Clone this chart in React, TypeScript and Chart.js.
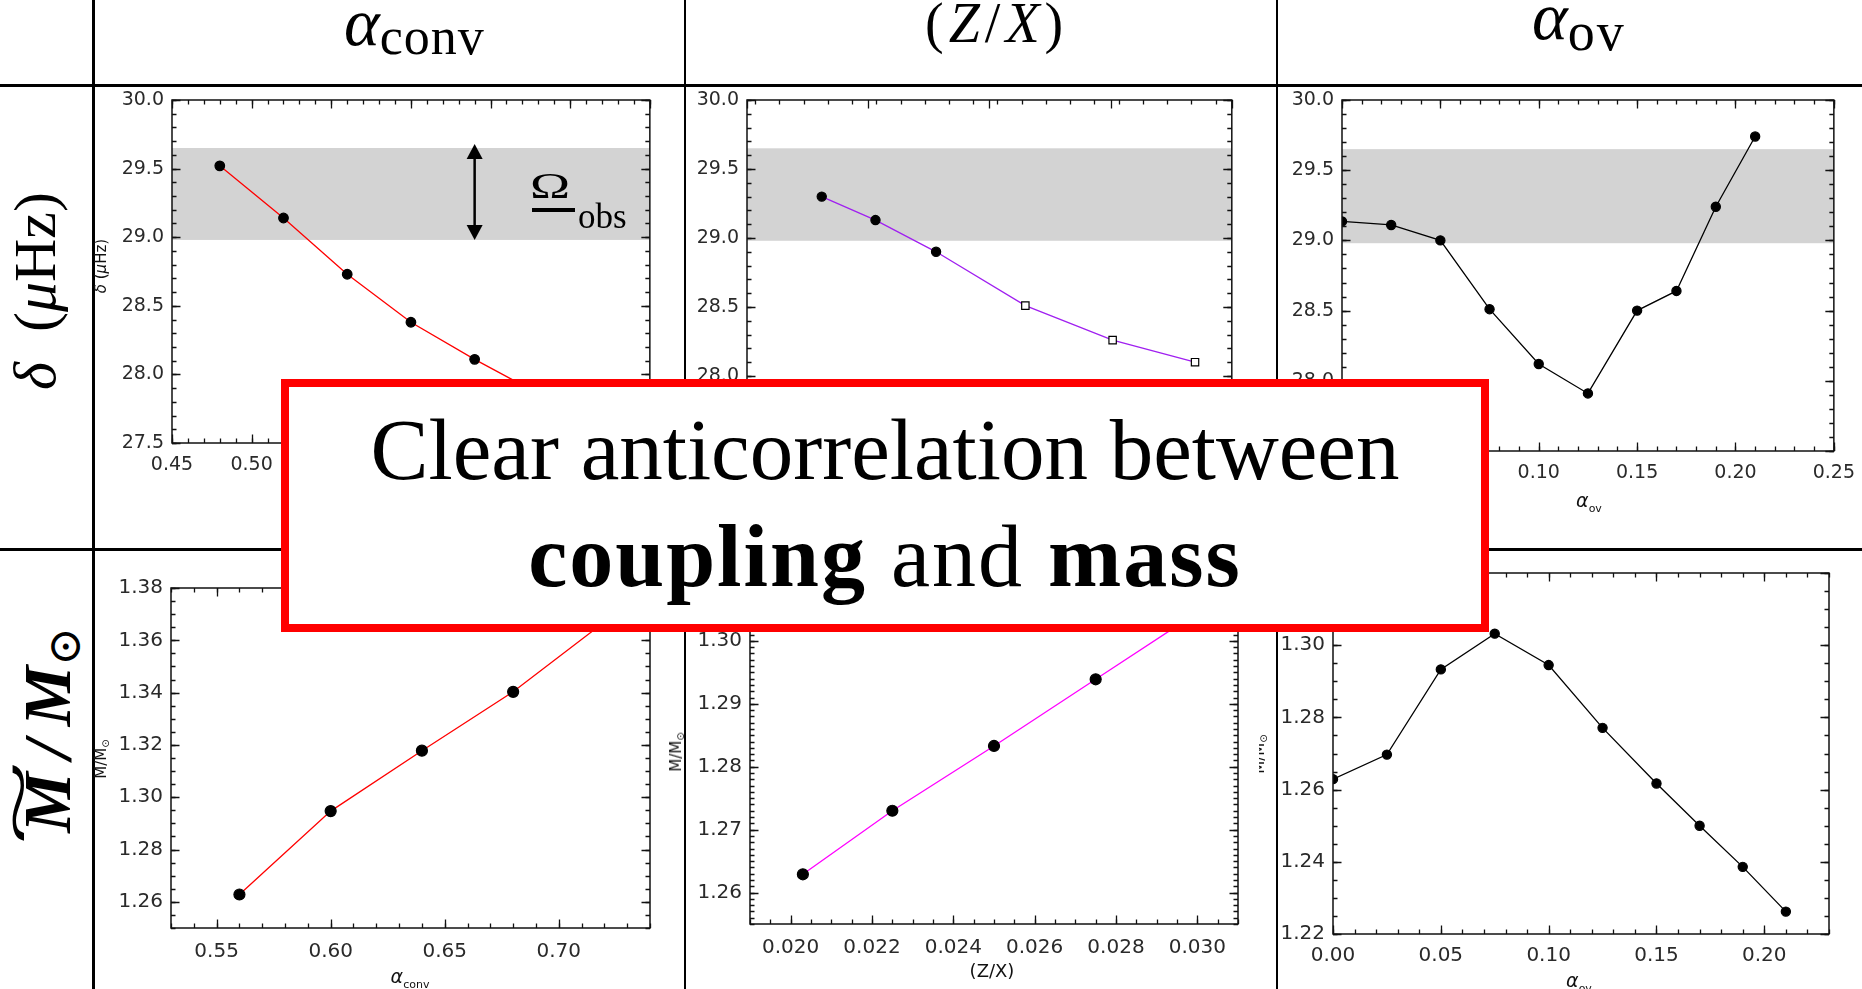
import React, { useEffect, useRef } from "react";
import { Chart, registerables } from "chart.js";
Chart.register(...registerables);

// ---------- data ----------
// top row: small frequency separation delta (muHz)
const convDeltaX = [0.48, 0.52, 0.56, 0.6, 0.64, 0.68, 0.72];
const convDeltaY = [29.52, 29.14, 28.73, 28.38, 28.11, 27.86, 27.62];
const zxDeltaX = [0.02085, 0.02218, 0.02368, 0.02589, 0.02805, 0.03009];
const zxDeltaY = [29.3, 29.13, 28.9, 28.51, 28.26, 28.1];
const zxDeltaOpen = [false, false, false, true, true, true];
const ovDeltaX = [0.0, 0.025, 0.05, 0.075, 0.1, 0.125, 0.15, 0.17, 0.19, 0.21];
const ovDeltaY = [29.135, 29.11, 29.0, 28.51, 28.12, 27.91, 28.5, 28.64, 29.24, 29.74];
// bottom row: mass
const convMassX = [0.56, 0.6, 0.64, 0.68, 0.72];
const convMassY = [1.2628, 1.2947, 1.3178, 1.3403, 1.367];
const zxMassX = [0.0203, 0.0225, 0.025, 0.0275, 0.03];
const zxMassY = [1.2629, 1.273, 1.2833, 1.2939, 1.3045];
const ovMassX = [0.0, 0.025, 0.05, 0.075, 0.1, 0.125, 0.15, 0.17, 0.19, 0.21];
const ovMassY = [1.2629, 1.2697, 1.2933, 1.3032, 1.2945, 1.2771, 1.2617, 1.25, 1.2386, 1.2262];
// observed band and arrow
const deltaObsBand = [28.98, 29.65];
const deltaObsArrow = [0.64, 28.98, 29.68];
// tick labels
const deltaTicks = [27.5, 28.0, 28.5, 29.0, 29.5, 30.0];
const convTopTicks = [0.45, 0.5, 0.55, 0.6, 0.65, 0.7, 0.75];
const zxTopTicks = [0.019, 0.022, 0.025, 0.028, 0.031];
const ovTopTicks = [0.0, 0.05, 0.1, 0.15, 0.2, 0.25];
const convBotTicks = [0.55, 0.6, 0.65, 0.7];
const convMassTicks = [1.26, 1.28, 1.3, 1.32, 1.34, 1.36, 1.38];
const zxBotTicks = [0.02, 0.022, 0.024, 0.026, 0.028, 0.03];
const zxMassTicks = [1.26, 1.27, 1.28, 1.29, 1.3, 1.31];
const ovBotTicks = [0.0, 0.05, 0.1, 0.15, 0.2];
const ovMassTicks = [1.22, 1.24, 1.26, 1.28, 1.3, 1.32];

// ---------- layout ----------
const ML = 80, MT = 20, MR = 30, MB = 50;

type Spec = {
  L: number; T: number; R: number; B: number;
  xMin: number; xMax: number; yMin: number; yMax: number;
  xTicks: number[]; yTicks: number[]; xDec: number; yDec: number;
  xMinor: number; yMinor: number;
  xs: number[]; ys: number[]; color: string;
  radius: number | number[]; style?: string[]; fills?: string[];
  band?: number[]; arrow?: number[]; xPad: number; fs: number;
};

const idlPlugin = {
  id: "idl",
  beforeDatasetsDraw(chart: any, _a: any, o: any) {
    const { ctx, chartArea: a, scales } = chart;
    if (o.band) {
      const y1 = scales.y.getPixelForValue(o.band[1]);
      const y0 = scales.y.getPixelForValue(o.band[0]);
      ctx.save();
      ctx.fillStyle = "#d3d3d3";
      ctx.fillRect(a.left, y1, a.right - a.left, y0 - y1);
      ctx.restore();
    }
  },
  afterDatasetsDraw(chart: any, _a: any, o: any) {
    const { ctx, chartArea: a, scales } = chart;
    const x = scales.x, y = scales.y;
    ctx.save();
    ctx.strokeStyle = "#111";
    ctx.lineWidth = 1.5;
    ctx.strokeRect(a.left, a.top, a.right - a.left, a.bottom - a.top);
    const minors = (mn: number, mx: number, st: number) => {
      const out: number[] = [];
      const k0 = Math.ceil(mn / st - 1e-6), k1 = Math.floor(mx / st + 1e-6);
      for (let k = k0; k <= k1; k++) out.push(k * st);
      return out;
    };
    const drawX = (vals: number[], len: number) => {
      ctx.beginPath();
      vals.forEach((v) => {
        const px = Math.round(x.getPixelForValue(v)) + 0.5;
        ctx.moveTo(px, a.bottom); ctx.lineTo(px, a.bottom - len);
        ctx.moveTo(px, a.top); ctx.lineTo(px, a.top + len);
      });
      ctx.stroke();
    };
    const drawY = (vals: number[], len: number) => {
      ctx.beginPath();
      vals.forEach((v) => {
        const py = Math.round(y.getPixelForValue(v)) + 0.5;
        ctx.moveTo(a.left, py); ctx.lineTo(a.left + len, py);
        ctx.moveTo(a.right, py); ctx.lineTo(a.right - len, py);
      });
      ctx.stroke();
    };
    ctx.lineWidth = 1.3;
    drawX(minors(x.min, x.max, o.xMinor), 4.5);
    drawY(minors(y.min, y.max, o.yMinor), 4.5);
    drawX(x.ticks.map((t: any) => t.value), 8.5);
    drawY(y.ticks.map((t: any) => t.value), 8.5);
    if (o.arrow) {
      const ax = x.getPixelForValue(o.arrow[0]);
      const yb = y.getPixelForValue(o.arrow[1]);
      const yt = y.getPixelForValue(o.arrow[2]);
      ctx.fillStyle = "#000";
      ctx.strokeStyle = "#000";
      ctx.lineWidth = 2.5;
      ctx.beginPath();
      ctx.moveTo(ax, yt + 12); ctx.lineTo(ax, yb - 12);
      ctx.stroke();
      ctx.beginPath();
      ctx.moveTo(ax, yt); ctx.lineTo(ax - 8, yt + 15); ctx.lineTo(ax + 8, yt + 15); ctx.closePath();
      ctx.fill();
      ctx.beginPath();
      ctx.moveTo(ax, yb); ctx.lineTo(ax - 8, yb - 15); ctx.lineTo(ax + 8, yb - 15); ctx.closePath();
      ctx.fill();
    }
    ctx.restore();
  },
};

function Panel({ s }: { s: Spec }) {
  const ref = useRef<HTMLCanvasElement>(null);
  const w = s.R - s.L + ML + MR;
  const h = s.B - s.T + MT + MB;
  useEffect(() => {
    const font = { family: "DejaVu Sans", size: s.fs };
    const chart = new Chart(ref.current as HTMLCanvasElement, {
      type: "scatter",
      data: {
        datasets: [
          {
            data: s.xs.map((xv, i) => ({ x: xv, y: s.ys[i] })),
            showLine: true,
            borderColor: s.color,
            borderWidth: 1.3,
            tension: 0,
            pointRadius: s.radius as any,
            pointStyle: (s.style || "circle") as any,
            pointBackgroundColor: (s.fills || "#000") as any,
            pointBorderColor: "#000",
            pointBorderWidth: 1.2,
            clip: 0 as any,
          },
        ],
      },
      options: {
        animation: false,
        responsive: false,
        devicePixelRatio: 1,
        layout: { padding: { left: 0, top: MT, right: MR, bottom: 0 } },
        plugins: {
          legend: { display: false },
          tooltip: { enabled: false },
          idl: { band: s.band, arrow: s.arrow, xMinor: s.xMinor, yMinor: s.yMinor },
        } as any,
        scales: {
          x: {
            type: "linear",
            min: s.xMin,
            max: s.xMax,
            grid: { display: false, drawTicks: false },
            border: { display: false },
            ticks: {
              autoSkip: false, maxRotation: 0, padding: s.xPad, font, color: "#2a2a2a",
              callback: (v: any) => Number(v).toFixed(s.xDec),
            },
            afterBuildTicks: (sc: any) => { sc.ticks = s.xTicks.map((v) => ({ value: v })); },
            afterFit: (sc: any) => { sc.height = MB; },
          },
          y: {
            type: "linear",
            min: s.yMin,
            max: s.yMax,
            grid: { display: false, drawTicks: false },
            border: { display: false },
            ticks: {
              autoSkip: false, padding: 8, font, color: "#2a2a2a",
              callback: (v: any) => Number(v).toFixed(s.yDec),
            },
            afterBuildTicks: (sc: any) => { sc.ticks = s.yTicks.map((v) => ({ value: v })); },
            afterFit: (sc: any) => { sc.width = ML; },
          },
        } as any,
      },
      plugins: [idlPlugin as any],
    });
    return () => chart.destroy();
  }, []);
  return (
    <canvas
      ref={ref}
      width={w}
      height={h}
      style={{ position: "absolute", left: s.L - ML, top: s.T - MT, width: w, height: h }}
    />
  );
}

const panels: Spec[] = [
  {
    L: 172, T: 100, R: 652, B: 443, xMin: 0.45, xMax: 0.75, yMin: 27.5, yMax: 30.0,
    xTicks: convTopTicks, yTicks: deltaTicks, xDec: 2, yDec: 1, xMinor: 0.01, yMinor: 0.1,
    xs: convDeltaX, ys: convDeltaY, color: "#ff0000", radius: 4.8,
    band: deltaObsBand, arrow: deltaObsArrow, xPad: 11, fs: 19,
  },
  {
    L: 747, T: 100, R: 1240, B: 445, xMin: 0.019, xMax: 0.031, yMin: 27.5, yMax: 30.0,
    xTicks: zxTopTicks, yTicks: deltaTicks, xDec: 3, yDec: 1, xMinor: 0.0006, yMinor: 0.1,
    xs: zxDeltaX, ys: zxDeltaY, color: "#a020f0",
    radius: zxDeltaOpen.map((o) => (o ? 5.2 : 4.6)),
    style: zxDeltaOpen.map((o) => (o ? "rect" : "circle")),
    fills: zxDeltaOpen.map((o) => (o ? "#fff" : "#000")),
    band: deltaObsBand, xPad: 11, fs: 19,
  },
  {
    L: 1342, T: 100, R: 1836, B: 451, xMin: 0.0, xMax: 0.25, yMin: 27.5, yMax: 30.0,
    xTicks: ovTopTicks, yTicks: deltaTicks, xDec: 2, yDec: 1, xMinor: 0.01, yMinor: 0.1,
    xs: ovDeltaX, ys: ovDeltaY, color: "#000", radius: 4.6,
    band: deltaObsBand, xPad: 11, fs: 19,
  },
  {
    L: 171, T: 588, R: 650, B: 928, xMin: 0.53, xMax: 0.74, yMin: 1.25, yMax: 1.38,
    xTicks: convBotTicks, yTicks: convMassTicks, xDec: 2, yDec: 2, xMinor: 0.01, yMinor: 0.005,
    xs: convMassX, ys: convMassY, color: "#ff0000", radius: 5.5, xPad: 12, fs: 20,
  },
  {
    L: 750, T: 578, R: 1238, B: 924, xMin: 0.019, xMax: 0.031, yMin: 1.255, yMax: 1.31,
    xTicks: zxBotTicks, yTicks: zxMassTicks, xDec: 3, yDec: 2, xMinor: 0.0005, yMinor: 0.001,
    xs: zxMassX, ys: zxMassY, color: "#ff00ff", radius: 5.5, xPad: 12, fs: 20,
  },
  {
    L: 1333, T: 573, R: 1829, B: 934, xMin: 0.0, xMax: 0.23, yMin: 1.22, yMax: 1.32,
    xTicks: ovBotTicks, yTicks: ovMassTicks, xDec: 2, yDec: 2, xMinor: 0.01, yMinor: 0.005,
    xs: ovMassX, ys: ovMassY, color: "#000", radius: 4.6, xPad: 10, fs: 20,
  },
];

const serif = "'Liberation Serif', 'DejaVu Serif', serif";
const sans = "'DejaVu Sans', sans-serif";

function Centered(props: { x: number; y: number; rot?: boolean; style?: any; children: any }) {
  return (
    <div
      style={{
        position: "absolute", left: props.x, top: props.y, lineHeight: 1, whiteSpace: "nowrap",
        transform: `translate(-50%, -50%)${props.rot ? " rotate(-90deg)" : ""}`,
        ...(props.style || {}),
      }}
    >
      {props.children}
    </div>
  );
}

function AlphaSmall({ sub }: { sub: string }) {
  return (
    <span style={{ fontFamily: sans, color: "#111" }}>
      <span style={{ fontStyle: "italic", fontSize: 19 }}>α</span>
      <span style={{ fontSize: 11, position: "relative", top: 5 }}>{sub}</span>
    </span>
  );
}

function MassSmall() {
  return (
    <span style={{ fontFamily: sans, fontSize: 15, color: "#111" }}>
      M/M<span style={{ fontSize: 10, position: "relative", top: 3 }}>⊙</span>
    </span>
  );
}

export default function App() {
  const line = (style: any) => <div style={{ position: "absolute", background: "#000", ...style }} />;
  return (
    <div
      style={{
        position: "absolute", left: 0, top: 0, width: 1862, height: 989,
        overflow: "hidden", background: "#fff",
      }}
    >
      {panels.map((s, i) => (
        <Panel key={i} s={s} />
      ))}

      {/* table grid */}
      {line({ left: 0, top: 84, width: 1862, height: 3 })}
      {line({ left: 0, top: 548, width: 1862, height: 3 })}
      {line({ left: 92, top: 0, width: 3, height: 989 })}
      {line({ left: 684, top: 0, width: 2, height: 989 })}
      {line({ left: 1276, top: 0, width: 2, height: 989 })}

      {/* column headers */}
      <div style={{ position: "absolute", left: 344, top: -12, fontFamily: serif, fontSize: 68, lineHeight: 1, whiteSpace: "nowrap" }}>
        <span style={{ fontStyle: "italic" }}>α</span>
        <span style={{ fontSize: 52, position: "relative", top: 9, letterSpacing: 1 }}>conv</span>
      </div>
      <div style={{ position: "absolute", left: 925, top: -5, fontFamily: serif, fontSize: 56, lineHeight: 1, whiteSpace: "nowrap", letterSpacing: 5 }}>
        (<span style={{ fontStyle: "italic" }}>Z</span>/<span style={{ fontStyle: "italic" }}>X</span>)
      </div>
      <div style={{ position: "absolute", left: 1532, top: -18, fontFamily: serif, fontSize: 68, lineHeight: 1, whiteSpace: "nowrap" }}>
        <span style={{ fontStyle: "italic" }}>α</span>
        <span style={{ fontSize: 54, position: "relative", top: 11, letterSpacing: 2 }}>ov</span>
      </div>

      {/* row headers */}
      <Centered x={35} y={291} rot style={{ fontFamily: serif, fontSize: 60 }}>
        <span style={{ fontStyle: "italic" }}>δ</span>
        {"\u2002("}
        <span style={{ fontStyle: "italic" }}>μ</span>
        {"Hz)"}
      </Centered>
      <Centered x={47} y={730} rot style={{ fontFamily: serif, fontSize: 68, fontWeight: "bold" }}>
        <span style={{ fontStyle: "italic", position: "relative", display: "inline-block" }}>
          M
          <span
            style={{
              position: "absolute", left: "50%", top: "-0.42em", fontWeight: "normal", fontStyle: "normal",
              transform: "translateX(-50%) scaleX(2.3)",
            }}
          >
            ~
          </span>
        </span>
        <span style={{ fontStyle: "italic" }}>{"\u2009/\u2009"}</span>
        <span style={{ fontStyle: "italic" }}>M</span>
        <span style={{ fontSize: 46, position: "relative", top: 10, fontWeight: "normal" }}>⊙</span>
      </Centered>

      {/* small axis titles */}
      <Centered x={101} y={266} rot style={{ fontFamily: sans, fontSize: 15, color: "#111" }}>
        <span style={{ fontStyle: "italic" }}>δ</span> (<span style={{ fontStyle: "italic" }}>μ</span>Hz)
      </Centered>
      <Centered x={101} y={759} rot>
        <MassSmall />
      </Centered>
      <Centered x={676} y={752} rot>
        <MassSmall />
      </Centered>
      <div style={{ position: "absolute", left: 1259, top: 700, width: 16, height: 110, overflow: "hidden" }}>
        <Centered x={0} y={54} rot>
          <MassSmall />
        </Centered>
      </div>
      <Centered x={1589} y={500}>
        <AlphaSmall sub="ov" />
      </Centered>
      <Centered x={410} y={976}>
        <AlphaSmall sub="conv" />
      </Centered>
      <Centered x={992} y={971} style={{ fontFamily: sans, fontSize: 18, color: "#111" }}>
        (Z/X)
      </Centered>
      <Centered x={1579} y={980}>
        <AlphaSmall sub="ov" />
      </Centered>

      {/* observed-value label */}
      <div style={{ position: "absolute", left: 530, top: 168, fontFamily: serif, fontSize: 54, lineHeight: 1, transform: "scaleY(0.66)", transformOrigin: "0 0" }}>
        Ω
      </div>
      <div style={{ position: "absolute", left: 532, top: 208, width: 43, height: 4, background: "#000" }} />
      <div style={{ position: "absolute", left: 578, top: 199, fontFamily: serif, fontSize: 35, lineHeight: 1 }}>
        obs
      </div>

      {/* overlay message */}
      <div
        style={{
          position: "absolute", left: 281, top: 379, width: 1208, height: 253,
          boxSizing: "border-box", border: "8px solid #ff0000", background: "#fff",
        }}
      />
      <div style={{ position: "absolute", left: 281, width: 1208, top: 406, textAlign: "center", fontFamily: serif, fontSize: 87, lineHeight: 1, whiteSpace: "nowrap" }}>
        Clear anticorrelation between
      </div>
      <div style={{ position: "absolute", left: 281, width: 1208, top: 513, textAlign: "center", fontFamily: serif, fontSize: 88, lineHeight: 1, whiteSpace: "nowrap", letterSpacing: 2 }}>
        <b>coupling</b> and <b>mass</b>
      </div>
    </div>
  );
}
